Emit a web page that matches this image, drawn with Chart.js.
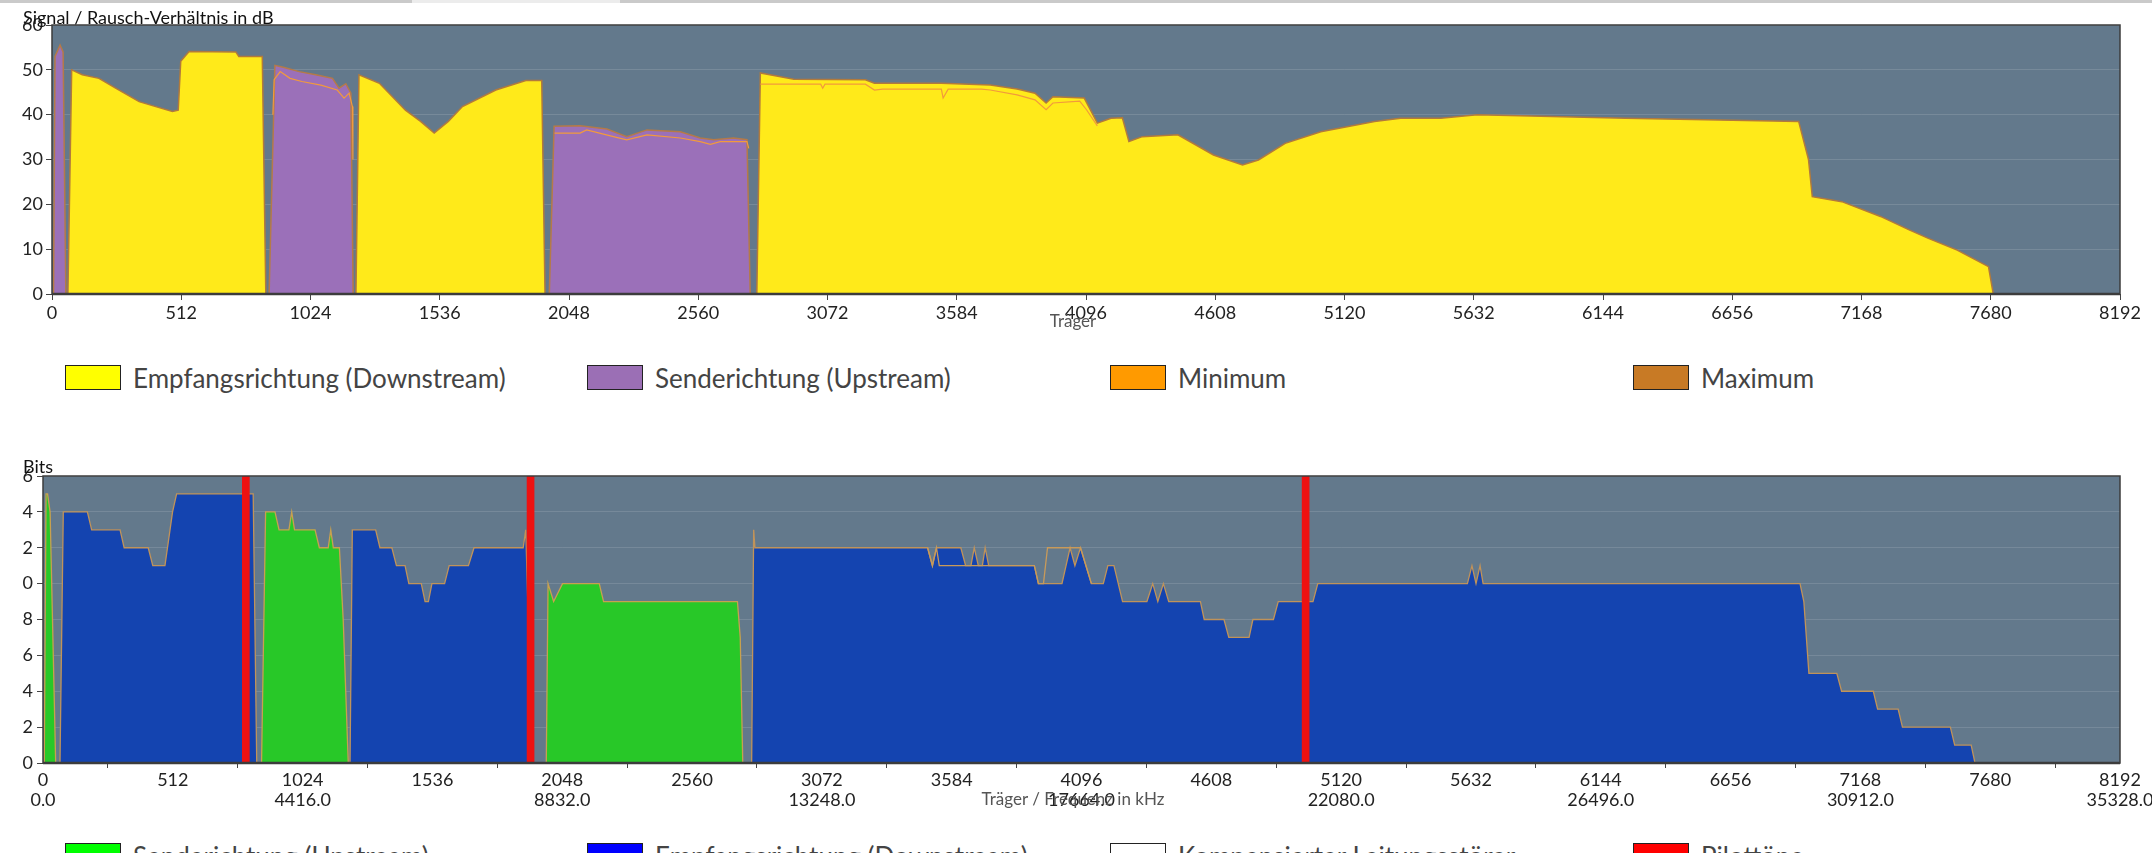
<!DOCTYPE html>
<html>
<head>
<meta charset="utf-8">
<script src="https://cdn.jsdelivr.net/npm/chart.js@4.4.1/dist/chart.umd.min.js"></script>
<style>
html,body{margin:0;padding:0;background:#fff;}
body{width:2152px;height:853px;overflow:hidden;position:relative;font-family:Lato,"Open Sans",sans-serif;}
.bar{position:absolute;top:0;height:3px;}
canvas{position:absolute;left:0;}
#snrChart{top:0;}
#bitsChart{top:450px;}
.lbl{position:absolute;white-space:nowrap;line-height:18px;}
.ttl{font-size:18px;color:#111;}
.axt{font-size:17px;color:#555;transform:translateX(-50%);}
.legend{position:absolute;left:0;width:2152px;height:26px;}
.item{position:absolute;top:0;height:26px;}
.item .box{position:absolute;left:0;top:0;width:54px;height:23px;border:1px solid #222;}
.item .txt{position:absolute;left:68px;top:-3px;font-size:26px;line-height:32px;color:#444;white-space:nowrap;}
</style>
</head>
<body>
<div class="bar" style="left:0;width:412px;background:#cacaca"></div>
<div class="bar" style="left:412px;width:208px;background:#ececec"></div>
<div class="bar" style="left:620px;width:1532px;background:#cacaca"></div>

<canvas id="snrChart" width="2160" height="335" style="width:2160px;height:335px"></canvas>
<canvas id="bitsChart" width="2160" height="370" style="width:2160px;height:370px"></canvas>

<div class="lbl ttl" style="left:23px;top:8px">Signal / Rausch-Verhältnis in dB</div>
<div class="lbl axt" style="left:1073px;top:312px">Träger</div>
<div class="legend" id="legend1" style="top:365px"></div>

<div class="lbl ttl" style="left:23px;top:457px">Bits</div>
<div class="lbl axt" style="left:1073px;top:790px">Träger / Frequenz in kHz</div>
<div class="legend" id="legend2" style="top:843px"></div>

<script>
// x axis
const carrierTicks=[0,512,1024,1536,2048,2560,3072,3584,4096,4608,5120,5632,6144,6656,7168,7680,8192];
const freqLabels=["0.0","4416.0","8832.0","13248.0","17664.0","22080.0","26496.0","30912.0","35328.0"];
const bitTickLabels=["0","2","4","6","8","0","2","4","6"];

// SNR in dB, downstream (yellow)
const dsCarrier=[63,78,120,186,252,345,411,477,500,510,543,728,740,833,847,
  1204,1216,1297,1400,1460,1514,1570,1626,1758,1877,1940,1953,
  2792,2806,2939,3222,3258,3523,3717,3823,3894,3938,3965,4089,4141,4195,4240,4266,4319,4460,4601,4716,4779,4885,5026,5239,5342,5501,5646,6235,6919,6958,6973,7090,7243,7357,7433,7547,7671,7690];
const dsSnr=[0,50,48.9,48.1,45.9,42.9,41.8,40.7,41,51.9,54.1,54,53,53,0,
  0,48.9,47,41,38.5,35.9,38.5,41.8,45.5,47.6,47.6,0,
  0,49.3,47.9,47.8,47,47,46.6,45.7,44.8,42.6,44,43.7,38.1,39.2,39.3,34,35.1,35.5,31,28.8,29.9,33.6,36.2,38.5,39.2,39.2,40,39.2,38.5,30,21.7,20.6,17.3,14.3,12.4,9.8,6.1,0];

// SNR in dB, upstream (purple)
const usCarrier=[6,12,32,44,55,
  860,883,920,979,1045,1111,1137,1164,1184,1193,
  1970,1989,2092,2198,2277,2357,2489,2568,2621,2700,2753,2766];
const usSnr=[0,53,55.5,54,0,
  0,51,50.5,49.6,48.9,48.1,45.9,46.9,44.8,0,
  0,37.4,37.5,36.8,35.1,36.6,36.2,34.8,34.4,34.8,34.4,0];

// Minimum line (null = gap)
const minCarrier=[875,880,904,943,990,1065,1130,1157,1177,1190,1192,1193,
  1991,2092,2118,2224,2277,2357,2489,2568,2608,2647,2753,2760,2761,
  2806,3045,3053,3062,3222,3258,3290,3523,3530,3550,3682,3717,3823,3894,3938,3965,4071,4098,4141,4142];
const minSnr=[40,47.8,49.6,48.1,47.4,46.6,45.5,43.7,44.8,41.8,30,null,
  35.9,35.9,36.6,35.1,34.4,35.5,34.8,34,33.4,34,34,32.5,null,
  46.8,46.8,45.9,46.8,46.8,45.5,45.7,45.7,43.7,45.7,45.7,45.5,44.4,43.3,41.1,42.6,43,41.1,37.5,null];

// Bits per carrier, upstream (green)
const upBitsCarrier=[5,12,18,28,50,
  862,878,915,931,970,981,992,1073,1090,1125,1135,1145,1169,1184,1204,
  1985,1992,2014,2049,2194,2211,2739,2750,2760];
const upBits=[0,15,15,14,0,
  0,14,14,13,13,14,13,13,12,12,13,12,12,8,0,
  0,10,9,10,10,9,9,7,0];

// Bits per carrier, downstream (blue)
const downBitsCarrier=[67,80,175,192,304,320,415,433,481,511,527,829,843,
  1211,1220,1312,1329,1376,1394,1428,1443,1492,1507,1520,1534,1584,1602,1678,1700,1894,1904,1930,
  2795,2803,2808,3489,3508,3524,3620,3639,3660,3673,3689,3705,3716,3730,3910,3926,4019,4051,4070,4092,4135,4182,4200,4224,4258,4354,4377,4397,4419,4440,4565,4580,4658,4677,4757,4772,4853,4872,5009,5028,
  5618,5636,5652,5668,5680,6930,6945,6965,7075,7094,7219,7236,7317,7334,7523,7540,7605,7620];
const downBits=[0,14,14,13,13,12,12,11,11,14,15,15,0,
  0,13,13,12,12,11,11,10,10,9,9,10,10,11,11,12,12,13,0,
  0,13,12,12,11,12,12,11,11,12,11,11,12,11,11,10,10,12,11,12,10,10,11,11,9,9,10,9,10,9,9,8,8,7,7,8,8,9,9,10,
  10,11,10,11,10,10,9,5,5,4,4,3,3,2,2,1,1,0];

// second bits trace where it leaves the filled areas
const refBitsCarrier=[3489,3508,3524,3535,3910,3926,3946,3962,4092,4135];
const refBits=[12,11,12,11,11,10,10,12,12,10];

// pilot tones
const pilotCarrier=[800,1923,4980];
const pilotLevel=[16,16,16];

const pts=(xs,ys)=>xs.map((x,i)=>({x:x,y:ys[i]}));

Chart.defaults.font.family="Lato, 'Open Sans', sans-serif";
Chart.defaults.color="#222";

const plotFrame={
    id:"plotFrame",
    beforeDraw(chart){
        const a=chart.chartArea, c=chart.ctx;
        c.save();
        c.fillStyle="#63798c";
        c.fillRect(a.left,a.top,a.right-a.left,a.bottom-a.top);
        c.restore();
    },
    afterDraw(chart){
        const a=chart.chartArea, c=chart.ctx;
        c.save();
        c.strokeStyle="#3c3c3c";
        c.lineWidth=1.5;
        c.strokeRect(a.left,a.top,a.right-a.left,a.bottom-a.top);
        c.lineWidth=2.5;
        c.beginPath();
        c.moveTo(a.left,a.bottom);
        c.lineTo(a.right,a.bottom);
        c.stroke();
        c.restore();
    }
};

function xAxis(height,withFreq){
    return {
        type:"linear",min:0,max:8192,offset:false,
        afterBuildTicks:s=>{ s.ticks=carrierTicks.map(v=>({value:v})); },
        afterFit:s=>{ s.height=height; },
        grid:{drawOnChartArea:false,drawTicks:true,tickLength:withFreq?5:6,tickColor:"#444",tickWidth:1},
        border:{display:false},
        ticks:{
            autoSkip:false,maxRotation:0,padding:2,color:"#222",
            font:{size:18,lineHeight:withFreq?1.1:1.2},
            callback:v=>{
                if(!withFreq) return String(v);
                return v%1024===0 ? [String(v),freqLabels[v/1024]] : [String(v),""];
            }
        }
    };
}

new Chart("snrChart",{
    type:"line",
    data:{datasets:[
        {label:"Minimum",data:pts(minCarrier,minSnr),borderColor:"#f29a3c",borderWidth:1.2,pointRadius:0,fill:false,spanGaps:false,order:1},
        {label:"Senderichtung (Upstream)",data:pts(usCarrier,usSnr),fill:"origin",backgroundColor:"#9b70b9",borderColor:"#b57a48",borderWidth:1.5,pointRadius:0,order:2},
        {label:"Empfangsrichtung (Downstream)",data:pts(dsCarrier,dsSnr),fill:"origin",backgroundColor:"#ffea1a",borderColor:"#b27a3c",borderWidth:1.5,pointRadius:0,order:3}
    ]},
    options:{
        responsive:false,animation:false,devicePixelRatio:1,
        layout:{padding:{top:25,right:40,left:0,bottom:0}},
        plugins:{legend:{display:false},tooltip:{enabled:false}},
        elements:{line:{tension:0}},
        scales:{
            x:xAxis(41,false),
            y:{
                min:0,max:60,
                afterFit:s=>{ s.width=52; },
                grid:{color:"rgba(255,255,255,0.13)",tickColor:"#444",tickLength:6},
                border:{display:false},
                ticks:{stepSize:10,padding:3,color:"#222",font:{size:18}}
            }
        }
    },
    plugins:[plotFrame]
});

new Chart("bitsChart",{
    type:"line",
    data:{datasets:[
        {type:"bar",label:"Pilottöne",data:pts(pilotCarrier,pilotLevel),backgroundColor:"#ee1111",barThickness:7,order:0},
        {label:"ref",data:pts(refBitsCarrier,refBits),borderColor:"#c89a5a",borderWidth:1.3,pointRadius:0,fill:false,order:1},
        {label:"Senderichtung (Upstream)",data:pts(upBitsCarrier,upBits),fill:"origin",backgroundColor:"#28c828",borderColor:"#c8a050",borderWidth:1.3,pointRadius:0,order:2},
        {label:"Empfangsrichtung (Downstream)",data:pts(downBitsCarrier,downBits),fill:"origin",backgroundColor:"#1444b0",borderColor:"#c0935a",borderWidth:1.3,pointRadius:0,order:3}
    ]},
    options:{
        responsive:false,animation:false,devicePixelRatio:1,
        layout:{padding:{top:26,right:40,left:0,bottom:0}},
        plugins:{legend:{display:false},tooltip:{enabled:false}},
        elements:{line:{tension:0}},
        scales:{
            x:xAxis(57,true),
            y:{
                min:0,max:16,
                afterFit:s=>{ s.width=43; },
                grid:{color:"rgba(255,255,255,0.12)",tickColor:"#444",tickLength:6},
                border:{display:false},
                ticks:{stepSize:1,padding:4,color:"#222",font:{size:18},
                    callback:v=>v%2===0 ? bitTickLabels[v/2] : ""}
            }
        }
    },
    plugins:[plotFrame]
});

// legends
const legendCols=[65,587,1110,1633];
function buildLegend(id,items){
    const el=document.getElementById(id);
    items.forEach((it,i)=>{
        const d=document.createElement("div");
        d.className="item";
        d.style.left=legendCols[i]+"px";
        d.innerHTML=`<span class="box" style="background:${it.color}"></span><span class="txt">${it.text}</span>`;
        el.appendChild(d);
    });
}
buildLegend("legend1",[
    {text:"Empfangsrichtung (Downstream)",color:"#ffff00"},
    {text:"Senderichtung (Upstream)",color:"#9b6fb5"},
    {text:"Minimum",color:"#ff9a00"},
    {text:"Maximum",color:"#c87a25"}
]);
buildLegend("legend2",[
    {text:"Senderichtung (Upstream)",color:"#00ff00"},
    {text:"Empfangsrichtung (Downstream)",color:"#0000ff"},
    {text:"Kompensierter Leitungsstörer",color:"#ffffff"},
    {text:"Pilottöne",color:"#ff0000"}
]);
</script>
</body>
</html>
